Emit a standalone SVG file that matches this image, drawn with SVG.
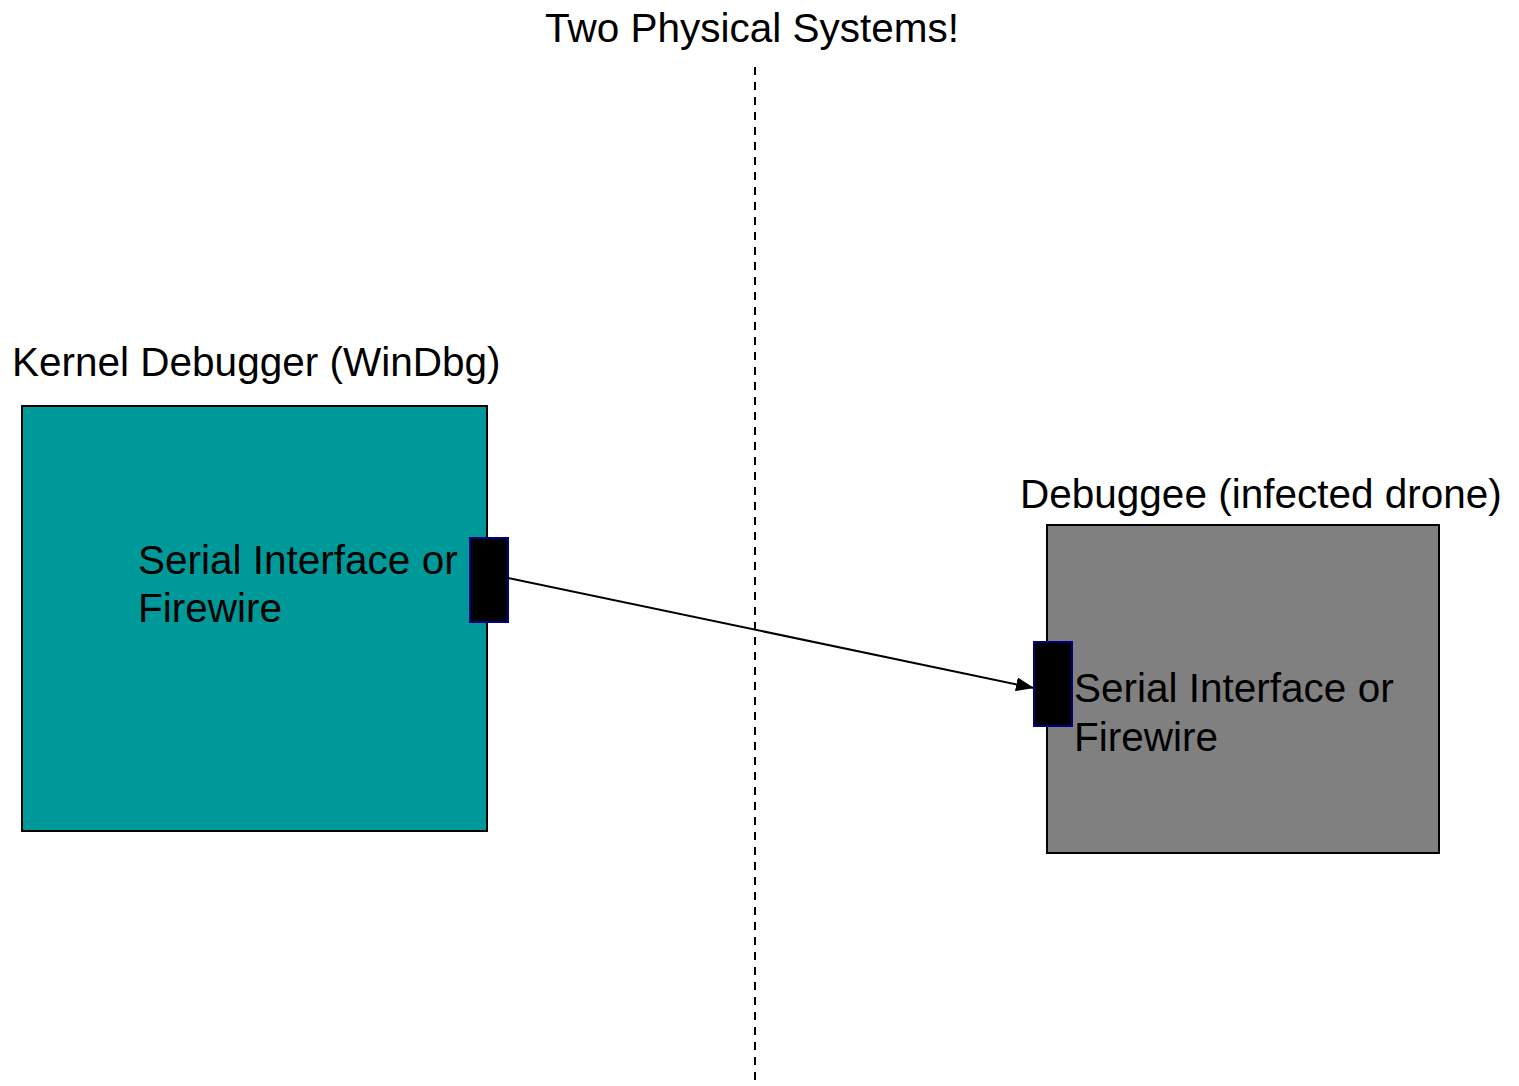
<svg xmlns="http://www.w3.org/2000/svg" width="1519" height="1086" viewBox="0 0 1519 1086">
<style>
text{font-family:"Liberation Sans",Arial,sans-serif;font-size:40.5px;fill:#000}
.box{stroke:#000;stroke-width:2}
.port{fill:#000;stroke:#000080;stroke-width:2}
</style>
<defs>
<marker id="arr" viewBox="0 0 18 14" refX="18" refY="7" markerWidth="18" markerHeight="14" markerUnits="userSpaceOnUse" orient="auto"><path d="M0,0 L18,7 L0,14 z" fill="#000"/></marker>
</defs>
<rect width="1519" height="1086" fill="#fff"/>
<text x="752" y="42" text-anchor="middle">Two Physical Systems!</text>
<line x1="755" y1="67" x2="755" y2="1086" stroke="#000" stroke-width="2" stroke-dasharray="8 7"/>
<g id="debugger">
<text x="12" y="376">Kernel Debugger (WinDbg)</text>
<rect class="box" x="22" y="406" width="465" height="425" fill="#009999"/>
<text x="138" y="574">Serial Interface or</text>
<text x="138" y="622">Firewire</text>
</g>
<g id="debugger-port"><rect class="port" x="470" y="538" width="38" height="84"/></g>
<g id="debuggee">
<text x="1020" y="508">Debuggee (infected drone)</text>
<rect class="box" x="1047" y="525" width="392" height="328" fill="#808080"/>
<text x="1074" y="702">Serial Interface or</text>
<text x="1074" y="751">Firewire</text>
</g>
<g id="debuggee-port"><rect class="port" x="1034" y="642" width="38" height="84"/></g>
<g id="connectors">
<line x1="508" y1="578" x2="1034" y2="688" stroke="#000" stroke-width="2" marker-end="url(#arr)"/>
</g>
</svg>
